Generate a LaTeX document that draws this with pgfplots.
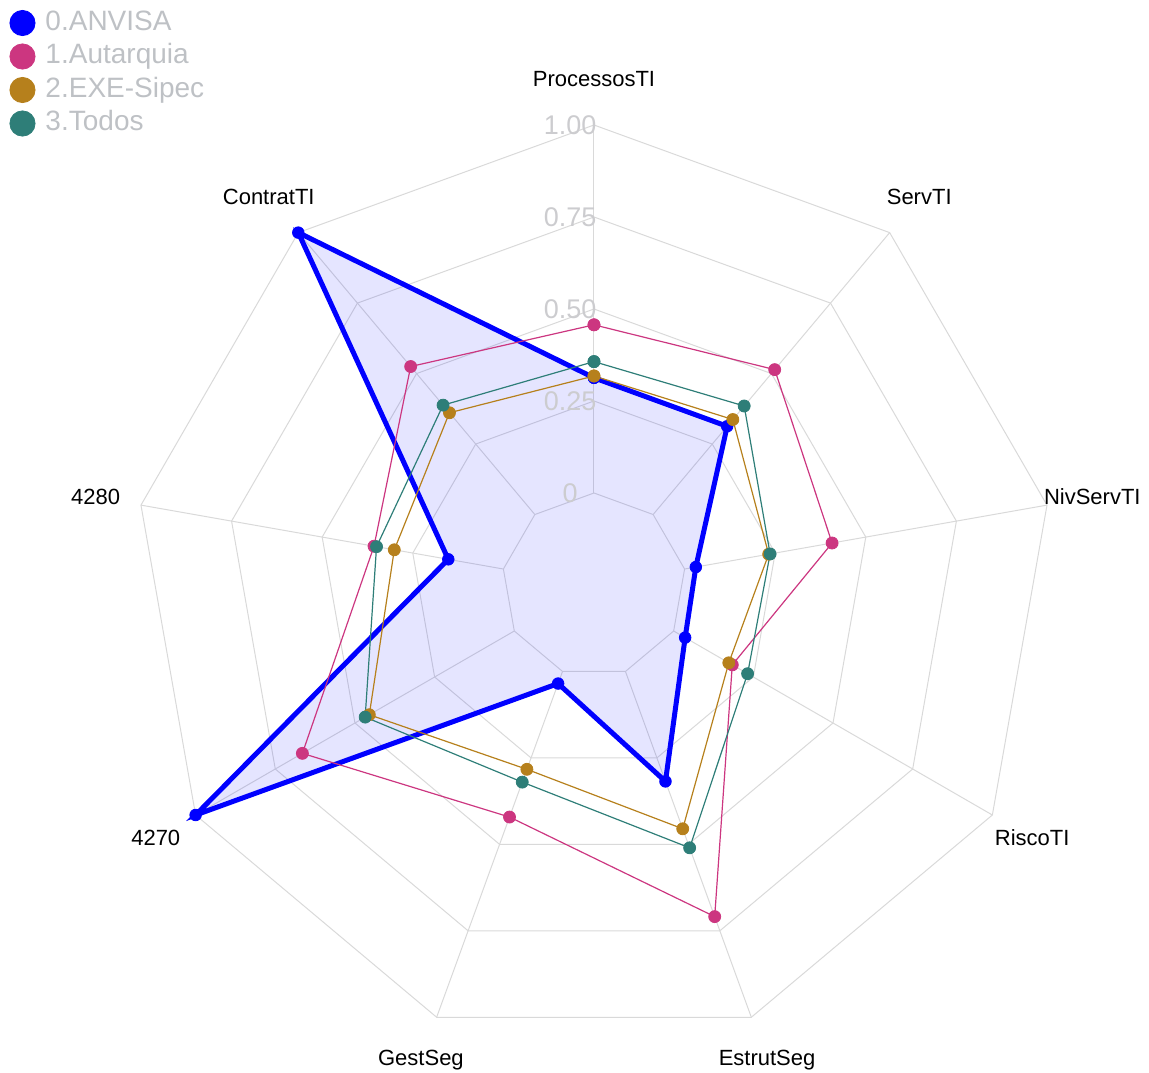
\documentclass[border=0pt]{standalone}
\usepackage{fontspec}
\setmainfont{Liberation Sans}
\usepackage{pgfplots}
\usepackage{pgfplotstable}
\pgfplotsset{compat=1.18}
\definecolor{cblue}{RGB}{0,0,255}
\definecolor{cpink}{RGB}{204,54,128}
\definecolor{cgold}{RGB}{182,128,28}
\definecolor{cteal}{RGB}{46,126,120}
\definecolor{gridc}{RGB}{217,217,217}
\definecolor{legtext}{RGB}{190,193,197}
\definecolor{radtext}{RGB}{204,204,207}
% angle (deg, clockwise from top) and score of each group
\pgfplotstableread{
a   anvisa autarquia exe   todos
0   0.313  0.457     0.318 0.357
40  0.313  0.514     0.337 0.385
80  0.031  0.407     0.232 0.236
120 0.036  0.184     0.173 0.232
160 0.318  0.709     0.455 0.510
200 0.035  0.421     0.283 0.320
240 1.000  0.665     0.455 0.468
280 0.152  0.357     0.301 0.350
320 1.000  0.525     0.361 0.388
360 0.313  0.457     0.318 0.357
}\radar
\begin{document}
\begin{tikzpicture}
\begin{axis}[
  x=184pt, y=184pt,
  xmin=-1.6141, xmax=1.5082, ymin=-1.3234, ymax=1.5897,
  hide axis, clip=false,
  legend cell align=left,
  legend style={at={(axis cs:-1.5883,1.5625)}, anchor=north west, draw=none, fill=none,
    font=\fontsize{14pt}{16pt}\selectfont, text=legtext,
    inner sep=0pt, outer sep=0pt, row sep=3.75pt,
    nodes={inner sep=0pt, text height=10pt, text depth=3pt},
    /tikz/every odd column/.style={column sep=5pt}},
]
\path (rel axis cs:0,0) rectangle (rel axis cs:1,1);
% legend
\addlegendimage{legend image code/.code={\fill[cblue] (6.3pt,0pt) circle (6.3pt);}}
\addlegendentry{0.ANVISA}
\addlegendimage{legend image code/.code={\fill[cpink] (6.3pt,0pt) circle (6.3pt);}}
\addlegendentry{1.Autarquia}
\addlegendimage{legend image code/.code={\fill[cgold] (6.3pt,0pt) circle (6.3pt);}}
\addlegendentry{2.EXE-Sipec}
\addlegendimage{legend image code/.code={\fill[cteal] (6.3pt,0pt) circle (6.3pt);}}
\addlegendentry{3.Todos}
% grid
\pgfplotsinvokeforeach{0.25,0.5,0.75,1.0,1.25}{
  \draw[gridc, line width=0.5pt] plot[samples at={0,40,...,360}] (axis cs:{#1*sin(\x)},{#1*cos(\x)});
}
\pgfplotsinvokeforeach{0,40,80,120,160,200,240,280,320}{
  \draw[gridc, line width=0.5pt] (axis cs:{0.25*sin(#1)},{0.25*cos(#1)}) -- (axis cs:{1.25*sin(#1)},{1.25*cos(#1)});
}
% fill
\addplot[draw=none, fill=cblue, fill opacity=0.1, forget plot]
  table[x expr={(\thisrow{anvisa}+0.25)*sin(\thisrow{a})}, y expr={(\thisrow{anvisa}+0.25)*cos(\thisrow{a})}] {\radar};
% lines
\addplot[cblue, line width=2.5pt, no marks, forget plot]
  table[x expr={(\thisrow{anvisa}+0.25)*sin(\thisrow{a})}, y expr={(\thisrow{anvisa}+0.25)*cos(\thisrow{a})}] {\radar};
\addplot[cpink, line width=0.6pt, no marks, forget plot]
  table[x expr={(\thisrow{autarquia}+0.25)*sin(\thisrow{a})}, y expr={(\thisrow{autarquia}+0.25)*cos(\thisrow{a})}] {\radar};
\addplot[cgold, line width=0.6pt, no marks, forget plot]
  table[x expr={(\thisrow{exe}+0.25)*sin(\thisrow{a})}, y expr={(\thisrow{exe}+0.25)*cos(\thisrow{a})}] {\radar};
\addplot[cteal, line width=0.6pt, no marks, forget plot]
  table[x expr={(\thisrow{todos}+0.25)*sin(\thisrow{a})}, y expr={(\thisrow{todos}+0.25)*cos(\thisrow{a})}] {\radar};
% points
\addplot[only marks, mark=*, mark size=2.9pt, cblue, forget plot]
  table[x expr={(\thisrow{anvisa}+0.25)*sin(\thisrow{a})}, y expr={(\thisrow{anvisa}+0.25)*cos(\thisrow{a})}] {\radar};
\addplot[only marks, mark=*, mark size=3pt, cpink, forget plot]
  table[x expr={(\thisrow{autarquia}+0.25)*sin(\thisrow{a})}, y expr={(\thisrow{autarquia}+0.25)*cos(\thisrow{a})}] {\radar};
\addplot[only marks, mark=*, mark size=3pt, cgold, forget plot]
  table[x expr={(\thisrow{exe}+0.25)*sin(\thisrow{a})}, y expr={(\thisrow{exe}+0.25)*cos(\thisrow{a})}] {\radar};
\addplot[only marks, mark=*, mark size=3pt, cteal, forget plot]
  table[x expr={(\thisrow{todos}+0.25)*sin(\thisrow{a})}, y expr={(\thisrow{todos}+0.25)*cos(\thisrow{a})}] {\radar};
% radial labels
\begin{scope}[every node/.style={font=\fontsize{13.5pt}{16pt}\selectfont, text=radtext, inner sep=0pt}]
\node at (axis cs:-0.065,0.25) {0};
\node at (axis cs:-0.065,0.50) {0.25};
\node at (axis cs:-0.065,0.75) {0.50};
\node at (axis cs:-0.065,1.00) {0.75};
\node at (axis cs:-0.065,1.25) {1.00};
\end{scope}
% axis labels
\begin{scope}[every node/.style={font=\fontsize{11pt}{13pt}\selectfont, text=black, inner sep=0pt}]
\node at (axis cs:0,1.375) {ProcessosTI};
\node at (axis cs:0.8838,1.0533) {ServTI};
\node at (axis cs:1.3541,0.2388) {NivServTI};
\node at (axis cs:1.1908,-0.6875) {RiscoTI};
\node at (axis cs:0.4703,-1.2921) {EstrutSeg};
\node at (axis cs:-0.4703,-1.2921) {GestSeg};
\node at (axis cs:-1.1908,-0.6875) {4270};
\node at (axis cs:-1.3541,0.2388) {4280};
\node at (axis cs:-0.8838,1.0533) {ContratTI};
\end{scope}
\end{axis}
\end{tikzpicture}
\end{document}
